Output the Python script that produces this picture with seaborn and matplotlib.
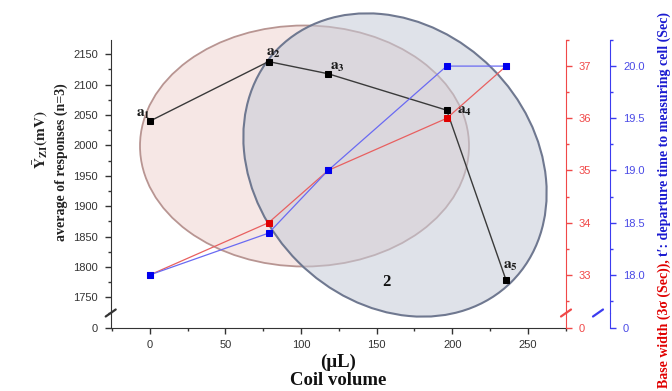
import numpy as np
import pandas as pd
import matplotlib
matplotlib.use("Agg")
import matplotlib.pyplot as plt
import matplotlib.transforms as mtransforms
import seaborn as sns
from matplotlib.patches import Ellipse
from matplotlib.lines import Line2D
from matplotlib.ticker import MultipleLocator, FixedLocator, FormatStrFormatter

# values
coil_volume = [0, 78.5, 117.8, 196.3, 235.6]          # uL
response = [2040, 2138, 2118, 2058, 1778]             # mV, average of n=3
base_width = [33.0, 34.0, 35.0, 36.0, 37.0]           # 3 sigma (sec)
departure = [18.0, 18.4, 19.0, 20.0, 20.0]            # t' (sec)
point_names = ["1", "2", "3", "4", "5"]
x_ticks = [0, 50, 100, 150, 200, 250]
left_ticks = [1750, 1800, 1850, 1900, 1950, 2000, 2050, 2100, 2150]
red_ticks = [33, 34, 35, 36, 37]
blue_ticks = [18.0, 18.5, 19.0, 19.5, 20.0]

sns.set_style("ticks")
plt.rcParams["font.family"] = ["Liberation Sans", "DejaVu Sans"]
plt.rcParams["mathtext.fontset"] = "stix"

BLACK = "#333333"
RED = "#f04848"
BLUE = "#3c3cf0"

W, H = 672, 391
fig = plt.figure(figsize=(W / 100, H / 100), dpi=100)
fig.patch.set_facecolor("white")
# pixel coords of the 672x391 picture (y down) -> figure
px = mtransforms.Affine2D().scale(1 / W, -1 / H).translate(0, 1) + fig.transFigure


def box(x0, y0, x1, y1):
    return [x0 / W, 1 - y1 / H, (x1 - x0) / W, (y1 - y0) / H]


X0, X1 = 110.7, 566
Y_TOP, Y_BRK, Y_BOT = 40, 313, 328

# background ellipses (grouping marks)
fig.add_artist(Ellipse((304.5, 146), 329, 241, angle=0, transform=px,
                       facecolor="#f0d4d0", alpha=0.55, edgecolor="none", zorder=-2))
fig.add_artist(Ellipse((304.5, 146), 329, 241, angle=0, transform=px,
                       facecolor="none", edgecolor="#b89592", lw=1.3, zorder=-2))
fig.add_artist(Ellipse((395, 165), 330, 274, angle=45, transform=px,
                       facecolor="#c6cbd8", alpha=0.55, edgecolor="none", zorder=-1))
fig.add_artist(Ellipse((395, 165), 330, 274, angle=45, transform=px,
                       facecolor="none", edgecolor="#6f7890", lw=1.5, zorder=-1))

ax = fig.add_axes(box(X0, Y_TOP, X1, Y_BRK))
axb = fig.add_axes(box(X0, Y_BRK, X1, Y_BOT))
axr = ax.twinx()
axu = ax.twinx()
axbr = axb.twinx()
axbu = axb.twinx()
for a in [ax, axb, axr, axu, axbr, axbu]:
    a.set_facecolor("none")
    for s in a.spines.values():
        s.set_visible(False)

sns.lineplot(x=coil_volume, y=response, ax=ax, color="#3a3a3a", lw=1,
             marker="s", markersize=4.5, markerfacecolor="black",
             markeredgecolor="black", errorbar=None)
sns.lineplot(x=coil_volume, y=base_width, ax=axr, color="#e86060", lw=0.9,
             marker="s", markersize=4.5, markerfacecolor="#e00000",
             markeredgecolor="#e00000", errorbar=None)
sns.lineplot(x=coil_volume, y=departure, ax=axu, color="#6a6af2", lw=0.9,
             marker="s", markersize=4.5, markerfacecolor="#0000ee",
             markeredgecolor="#0000ee", errorbar=None)

for xv, yv, n in zip(coil_volume, response, point_names):
    off = {"1": (-7, 7), "2": (5, 9), "3": (9, 7), "4": (18, -1), "5": (4, 14)}[n]
    ax.annotate(r"$\mathbf{a_{%s}}$" % n, (xv, yv), xytext=off,
                textcoords="offset pixels", ha="center", va="center",
                fontsize=11, color="#1a1a1a")

xlim = (-25.9, 275.2)
for a in [ax, axb, axr, axu, axbr, axbu]:
    a.set_xlim(*xlim)
    a.set_xlabel("")
    a.set_ylabel("")

# left axis, upper part
ax.set_ylim(1724.2, 2173.5)
ax.yaxis.set_major_locator(FixedLocator(left_ticks))
ax.yaxis.set_minor_locator(MultipleLocator(25))
ax.spines["left"].set_visible(True)
ax.spines["left"].set_color(BLACK)
ax.tick_params(axis="x", which="both", bottom=False, labelbottom=False)
ax.tick_params(axis="y", which="major", direction="out", length=4, width=1,
               pad=5, labelsize=8, color=BLACK, labelcolor=BLACK)
ax.tick_params(axis="y", which="minor", direction="out", length=2, width=1, color=BLACK)

# lower part (below the break) carries the x axis
axb.set_ylim(0, 1)
axb.set_yticks([0])
axb.spines["left"].set_visible(True)
axb.spines["bottom"].set_visible(True)
for s in ["left", "bottom"]:
    axb.spines[s].set_color(BLACK)
axb.set_xticks(x_ticks)
axb.xaxis.set_minor_locator(MultipleLocator(25))
axb.tick_params(axis="both", which="major", direction="out", length=4, width=1,
                pad=5, labelsize=8, color=BLACK, labelcolor=BLACK)
axb.tick_params(axis="x", which="minor", direction="out", length=2, width=1, color=BLACK)

# red axis
axr.set_ylim(32.27, 37.5)
axr.yaxis.set_major_locator(FixedLocator(red_ticks))
axr.yaxis.set_minor_locator(MultipleLocator(0.5))
axbr.set_ylim(0, 1)
axbr.set_yticks([0])
for a in [axr, axbr]:
    a.spines["right"].set_visible(True)
    a.spines["right"].set_color(RED)
    a.tick_params(axis="y", which="major", direction="out", length=4, width=1,
                  pad=5, labelsize=8, color=RED, labelcolor=RED)
    a.tick_params(axis="y", which="minor", direction="out", length=2, width=1, color=RED)

# blue axis
axu.set_ylim(17.635, 20.25)
axu.yaxis.set_major_locator(FixedLocator(blue_ticks))
axu.yaxis.set_minor_locator(MultipleLocator(0.25))
axu.yaxis.set_major_formatter(FormatStrFormatter("%.1f"))
axbu.set_ylim(0, 1)
axbu.set_yticks([0])
for a in [axu, axbu]:
    a.spines["right"].set_visible(True)
    a.spines["right"].set_position(("outward", 32))
    a.spines["right"].set_color(BLUE)
    a.tick_params(axis="y", which="major", direction="out", length=4, width=1,
                  pad=5, labelsize=8, color=BLUE, labelcolor="#4a4ae6")
    a.tick_params(axis="y", which="minor", direction="out", length=2, width=1, color=BLUE)

# break marks on the three y axes
for xs, c in [(X0, BLACK), (X1, RED), (X1 + 32, BLUE)]:
    fig.add_artist(Line2D([xs - 5, xs + 5], [Y_BRK + 3.5, Y_BRK - 3.5],
                          transform=px, color=c, lw=1.6))

# axis titles
serif = ["Liberation Serif", "DejaVu Serif"]
fig.text(41 / W, 1 - 140 / H, r"$\bar{\mathbf{Y}}_{\mathbf{ZI}}\mathbf{(mV)}$",
         rotation=90, ha="center", va="center", fontsize=11, color="#222222")
fig.text(61 / W, 1 - 162 / H, "average of responses (n=3)", rotation=90,
         ha="center", va="center", fontsize=10, family=serif, weight="bold",
         color="#222222")

# right title in two colours, the blue part continues where the red part ends
red_txt = fig.text(664 / W, 1 - 388 / H, "Base width (3σ (Sec)),", rotation=90,
                   ha="center", va="bottom", fontsize=10, family=serif,
                   weight="bold", color="#e00000")
fig.canvas.draw()
bb = red_txt.get_window_extent(fig.canvas.get_renderer())
fig.text(664 / W, (bb.y1 + 3) / fig.bbox.height,
         "t′: departure time to measuring cell (Sec)",
         rotation=90, ha="center", va="bottom", fontsize=10, family=serif,
         weight="bold", color="#1a1ad0")

fig.text(338 / W, 1 - 362 / H, "(µL)", ha="center", va="center", fontsize=13.5,
         family=serif, weight="bold", color="#111111")
fig.text(338 / W, 1 - 389 / H, "Coil volume", ha="center", va="bottom",
         fontsize=13.5, family=serif, weight="bold", color="#111111")
fig.text(386 / W, 1 - 282 / H, "2", ha="center", va="center", fontsize=12,
         family=serif, weight="bold", color="#111111")

fig.savefig("out.png", dpi=100)
